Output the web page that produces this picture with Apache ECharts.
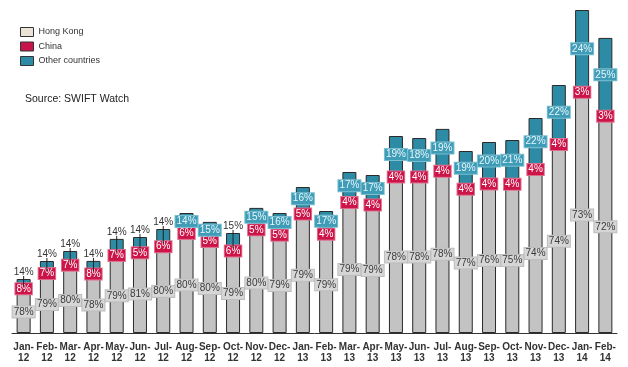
<!DOCTYPE html>
<html><head><meta charset="utf-8">
<script src="https://cdn.jsdelivr.net/npm/echarts@6/dist/echarts.min.js"></script>
<style>html,body{margin:0;padding:0;background:#fff}#c{width:628px;height:367px}</style>
</head><body><div id="c"></div>
<script>
var categories = ['Jan-\n12','Feb-\n12','Mar-\n12','Apr-\n12','May-\n12','Jun-\n12','Jul-\n12','Aug-\n12','Sep-\n12','Oct-\n12','Nov-\n12','Dec-\n12','Jan-\n13','Feb-\n13','Mar-\n13','Apr-\n13','May-\n13','Jun-\n13','Jul-\n13','Aug-\n13','Sep-\n13','Oct-\n13','Nov-\n13','Dec-\n13','Jan-\n14','Feb-\n14'];
// segment sizes (relative volume)
var hongKong = [42.1,56.9,65.0,56.2,74.3,77.8,83.2,96.0,88.8,79.0,100.0,94.8,115.3,96.4,127.2,124.8,152.1,152.1,157.6,140.1,145.2,144.8,159.1,183.5,235.8,212.4];
var china    = [4.3,5.0,5.7,5.8,6.6,4.8,6.2,7.2,5.6,6.0,6.3,6.0,7.3,4.9,6.4,6.3,7.8,7.8,8.1,7.3,7.6,7.7,8.6,9.9,9.7,8.9];
var others   = [7.6,10.1,11.3,10.1,13.2,13.4,14.6,16.8,16.7,15.0,18.8,19.2,23.4,20.7,27.4,26.9,37.1,35.1,38.4,34.6,38.2,40.5,47.3,54.6,77.5,73.8];
// share labels (%)
var hkPct = [78,79,80,78,79,81,80,80,80,79,80,79,79,79,79,79,78,78,78,77,76,75,74,74,73,72];
var cnPct = [8,7,7,8,7,5,6,6,5,6,5,5,5,4,4,4,4,4,4,4,4,4,4,4,3,3];
var otPct = [14,14,14,14,14,14,14,14,15,15,15,16,16,17,17,17,19,18,19,19,20,21,22,22,24,25];
// which "Other" labels sit above the bar
var otOutside = [1,1,1,1,1,1,1,0,0,1,0,0,0,0,0,0,0,0,0,0,0,0,0,0,0,0];

var FONT = 'Liberation Sans, Arial, sans-serif';
var C_HK = '#c3c3c3', C_CN = '#c8144a', C_OT = '#2e8ba5';

function lbl(bg, fg, border){
  return {show:true, position:'inside', fontFamily:FONT, fontSize:10, color:fg,
    backgroundColor:bg, borderColor:border, borderWidth:1, padding:[1,1,0,1]};
}
var hkData = hongKong.map(function(v,i){return {value:v, label:{formatter:hkPct[i]+'%'}};});
var cnData = china.map(function(v,i){return {value:v, label:{formatter:cnPct[i]+'%'}};});
var otData = others.map(function(v,i){
  if (otOutside[i]) return {value:v, label:{formatter:otPct[i]+'%', position:'top', distance:2,
     backgroundColor:'transparent', borderWidth:0, color:'#333'}};
  return {value:v, label:{formatter:otPct[i]+'%'}};
});
var leaderData = [];
for (var i=0;i<categories.length;i++){
  if (otOutside[i]) leaderData.push([i, hongKong[i]+china[i], hongKong[i]+china[i]+others[i]]);
}

var itemBorder = {borderColor:'#2a2a2a', borderWidth:1};
var chart = echarts.init(document.getElementById('c'), null, {renderer:'canvas'});
chart.setOption({
  animation:false,
  textStyle:{fontFamily:FONT},
  grid:{left:12, right:11, top:0, bottom:34, containLabel:false},
  legend:{orient:'vertical', left:15, top:22, itemWidth:13, itemHeight:9, itemGap:4.5, icon:'rect',
    textStyle:{fontFamily:FONT, fontSize:9, color:'#333'},
    data:[{name:'Hong Kong', itemStyle:{color:'#ebe3d5', borderColor:'#333', borderWidth:1}},
          {name:'China', itemStyle:{color:C_CN, borderColor:'#333', borderWidth:1}},
          {name:'Other countries', itemStyle:{color:C_OT, borderColor:'#333', borderWidth:1}}]},
  graphic:[{type:'text', left:25, top:94, style:{text:'Source: SWIFT Watch', font:'10.5px '+FONT, fill:'#222'}}],
  xAxis:{type:'category', data:categories, axisTick:{show:false},
    axisLine:{lineStyle:{color:'#333', width:1}},
    axisLabel:{interval:0, fontFamily:FONT, fontSize:10, fontWeight:'bold', color:'#333', lineHeight:11, margin:9}},
  yAxis:{type:'value', min:0, max:333, show:false, splitLine:{show:false}},
  series:[
    {name:'Hong Kong', type:'bar', stack:'s', barWidth:14, data:hkData,
      itemStyle:Object.assign({color:C_HK}, itemBorder), label:lbl('#d6d6d6','#3a3a3a','#bdbdbd')},
    {name:'China', type:'bar', stack:'s', barWidth:14, data:cnData,
      itemStyle:Object.assign({color:C_CN}, itemBorder), label:lbl('#cc1448','#ffffff','#e07090')},
    {name:'Other countries', type:'bar', stack:'s', barWidth:14, data:otData,
      itemStyle:Object.assign({color:C_OT}, itemBorder), label:lbl('#3f9cb6','#e8f6fb','#7cc0d2')},
    {name:'leader', type:'custom', data:leaderData, z:5, silent:true,
      renderItem:function(params, api){
        var a = api.coord([api.value(0), api.value(1)]);
        var b = api.coord([api.value(0), api.value(2)]);
        return {type:'line', shape:{x1:a[0], y1:a[1], x2:b[0], y2:b[1]-3},
          style:{stroke:'#222', lineWidth:1}};
      }}
  ]
});
</script></body></html>
